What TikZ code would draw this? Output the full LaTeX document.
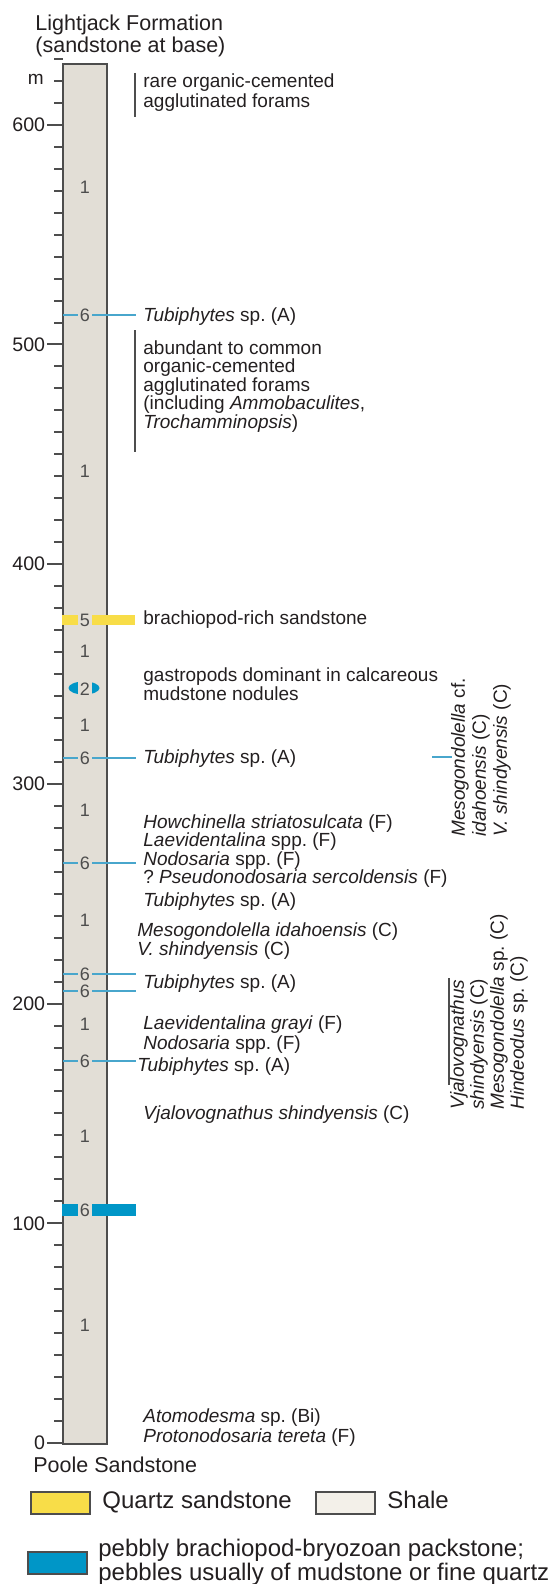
\documentclass[tikz,border=0pt]{standalone}
\usepackage{fontspec}
\setmainfont{Liberation Sans}
\usetikzlibrary{shapes.geometric}
\frenchspacing

\definecolor{shalegray}{RGB}{226,222,214}
\definecolor{shalekey}{RGB}{243,240,233}
\definecolor{sandyellow}{RGB}{248,221,72}
\definecolor{packblue}{RGB}{0,150,199}
\definecolor{tubeblue}{RGB}{72,166,204}
\definecolor{inkgray}{RGB}{77,77,77}
\definecolor{inkblack}{RGB}{35,31,32}

\begin{document}
\begin{tikzpicture}[x=0.5pt, y=-0.5pt, text=inkblack,
    font=\fontsize{9.5}{9.5}\selectfont,
    every node/.style={inner sep=0pt},
    taxon/.style={anchor=west, align=left},
    bednum/.style={fill=shalegray, inner sep=0.75pt, text=inkgray, font=\fontsize{9}{9}\selectfont},
    scaletick/.style={inkgray, line width=1pt},
    rangebar/.style={inkgray, line width=0.8pt},
    tubeline/.style={tubeblue, line width=0.85pt},
    keybox/.style={draw=inkgray, line width=1pt, minimum width=29.5pt, minimum height=11pt}]
  \useasboundingbox (0,0) rectangle (555,1584);

  % section column and metre scale
  \node[anchor=west, align=left, font=\fontsize{10.75}{9.6}\selectfont] (title) at (35,36) {Lightjack Formation\\(sandstone at base)};
  \draw[inkgray, line width=1pt, fill=shalegray] (63,64) rectangle (107,1444);
  \foreach \m in {0,10,...,630}
    \draw[scaletick] (54,{1443-2.197*\m}) -- (63,{1443-2.197*\m});
  \foreach \m in {0,100,...,600} {
    \draw[scaletick] (47,{1443-2.197*\m}) -- (63,{1443-2.197*\m});
    \node[anchor=east, font=\fontsize{9.8}{9.8}\selectfont] (m\m) at (45.5,{1443-2.197*\m}) {\m};
  }
  \node[anchor=base east] (unit) at (44,85) {m};
  \node[anchor=base west, font=\fontsize{10.75}{10.75}\selectfont] (base) at (33,1472) {Poole Sandstone};

  % beds
  \fill[sandyellow] (62,615) rectangle (135,625);
  \fill[packblue] (62,1204) rectangle (136,1216);
  \foreach \yy in {315,758,863,974,991,1061}
    \draw[tubeline] (63,\yy) -- (135.5,\yy);
  \node[ellipse, fill=packblue, minimum width=15.5pt, minimum height=6.5pt] (nodule) at (84,688) {};
  \foreach \yy/\lab [count=\i] in {187/1,315/6,471/1,620/5,651/1,689/2,725/1,758/6,810/1,863/6,920/1,974/6,991/6,1024/1,1061/6,1136/1,1210/6,1325/1}
    \node[bednum] (bed\i) at (85,\yy) {\lab};

  % fossils and range bars
  \draw[rangebar] (135,73) -- (135,117);
  \node[taxon, font=\fontsize{9.5}{10}\selectfont] (rare) at (143,93) {rare organic-cemented\\agglutinated forams};
  \node[taxon] (tubA) at (143,317) {\textit{Tubiphytes} sp. (A)};
  \draw[rangebar] (135,330) -- (135,452);
  \node[taxon, font=\fontsize{9.5}{9.25}\selectfont] (abund) at (143,386.5) {abundant to common\\organic-cemented\\agglutinated forams\\(including \textit{Ammobaculites},\\\textit{Trochamminopsis})};
  \node[taxon] (brach) at (143,620) {brachiopod-rich sandstone};
  \node[taxon] (gastro) at (143,684.3) {gastropods dominant in calcareous\\mudstone nodules};
  \node[taxon] (tubB) at (143,759) {\textit{Tubiphytes} sp. (A)};
  \node[taxon, font=\fontsize{9.5}{9.15}\selectfont] (howch) at (143,851) {\textit{Howchinella striatosulcata} (F)\\\textit{Laevidentalina} spp. (F)\\\textit{Nodosaria} spp. (F)\\? \textit{Pseudonodosaria sercoldensis} (F)};
  \node[taxon] (tubC) at (143,902) {\textit{Tubiphytes} sp. (A)};
  \node[taxon, font=\fontsize{9.5}{8.85}\selectfont] (mesoA) at (137,941) {\textit{Mesogondolella idahoensis} (C)\\\textit{V. shindyensis} (C)};
  \node[taxon] (tubD) at (143,983.5) {\textit{Tubiphytes} sp. (A)};
  \node[taxon, font=\fontsize{9.5}{9.7}\selectfont] (laevi) at (143,1034.7) {\textit{Laevidentalina grayi} (F)\\\textit{Nodosaria} spp. (F)};
  \node[taxon] (tubE) at (137,1067) {\textit{Tubiphytes} sp. (A)};
  \node[taxon] (vjalo) at (143,1114.5) {\textit{Vjalovognathus shindyensis} (C)};
  \node[taxon, font=\fontsize{9.5}{9.8}\selectfont] (atomo) at (143,1427.6) {\textit{Atomodesma} sp. (Bi)\\\textit{Protonodosaria tereta} (F)};

  % conodont ranges, rotated
  \draw[tubeline] (432,757) -- (452,757);
  \node[taxon, rotate=90, font=\fontsize{9.5}{10.5}\selectfont] (condA) at (481,837) {\textit{Mesogondolella} cf.\\\textit{idahoensis} (C)\\\textit{V. shindyensis} (C)};
  \draw[rangebar] (449,978) -- (449,1085);
  \node[taxon, rotate=90, font=\fontsize{9.5}{10}\selectfont] (condB) at (489,1110) {\textit{Vjalovognathus}\\\textit{shindyensis} (C)\\\textit{Mesogondolella} sp. (C)\\\textit{Hindeodus} sp. (C)};

  % key
  \node[keybox, fill=sandyellow] (keysand) at (60.5,1503) {};
  \node[anchor=base west, font=\fontsize{12}{12}\selectfont] (keysandtxt) at (102,1508.5) {Quartz sandstone};
  \node[keybox, fill=shalekey] (keyshale) at (345,1503) {};
  \node[anchor=base west, font=\fontsize{12}{12}\selectfont] (keyshaletxt) at (387,1508.5) {Shale};
  \node[keybox, fill=packblue] (keypack) at (57.5,1563) {};
  \node[anchor=west, align=left, font=\fontsize{12}{10}\selectfont] (keypacktxt) at (98,1562) {pebbly brachiopod-bryozoan packstone;\\pebbles usually of mudstone or fine quartz};
\end{tikzpicture}
\end{document}
